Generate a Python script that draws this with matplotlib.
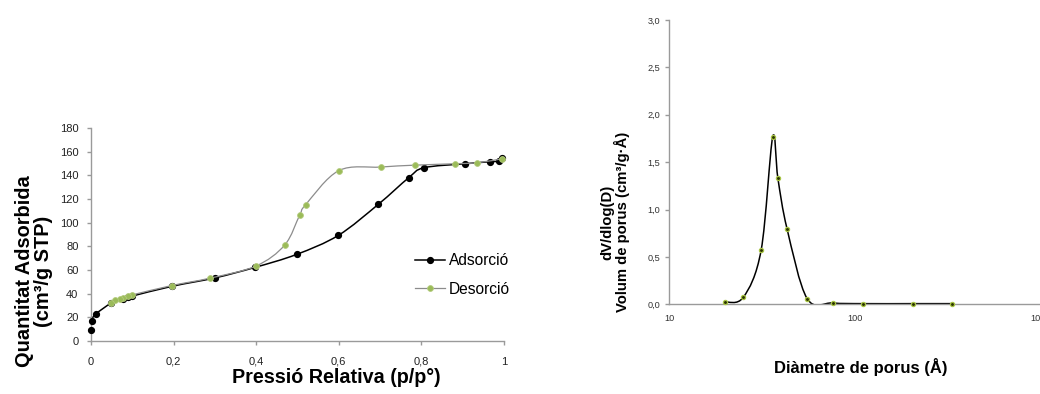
import numpy as np
import matplotlib
matplotlib.use("Agg")
import matplotlib.pyplot as plt
from matplotlib.path import Path
from matplotlib.patches import PathPatch
from matplotlib.lines import Line2D
from matplotlib.ticker import FixedLocator, FixedFormatter

plt.rcParams['font.family'] = ['Liberation Sans', 'DejaVu Sans']

# N2 isotherm: adsorption branch
ads_p = [0.0, 0.002, 0.011, 0.049, 0.078, 0.090, 0.100, 0.197, 0.301, 0.397,
         0.498, 0.599, 0.696, 0.769, 0.806, 0.906, 0.967, 0.987, 0.995]
ads_q = [9.0, 17.2, 22.6, 32.0, 35.3, 37.0, 38.0, 46.3, 53.4, 62.2,
         73.2, 89.3, 115.6, 137.9, 146.4, 149.8, 151.5, 152.0, 154.3]

# N2 isotherm: desorption branch
des_p = [0.995, 0.935, 0.882, 0.784, 0.701, 0.600, 0.520, 0.505, 0.469, 0.399,
         0.288, 0.196, 0.100, 0.090, 0.078, 0.070, 0.059, 0.049]
des_q = [154.0, 150.6, 149.8, 148.6, 147.0, 144.0, 115.3, 106.2, 81.1, 63.3,
         53.1, 46.9, 39.0, 38.1, 36.7, 35.6, 34.5, 32.5]

# Pore size distribution (BJH)
pore_d = [19.9, 25.1, 31.3, 36.1, 38.5, 43.1, 55.3, 76.0, 110.4, 205.5, 331.0]
pore_v = [0.025, 0.074, 0.573, 1.765, 1.329, 0.798, 0.060, 0.014, 0.007, 0.007, 0.007]

iso_xticks = [0, 0.2, 0.4, 0.6, 0.8, 1.0]
iso_xlabels = ["0", "0,2", "0,4", "0,6", "0,8", "1"]
iso_yticks = [0, 20, 40, 60, 80, 100, 120, 140, 160, 180]
psd_xticks = [10, 100, 1000]
psd_xlabels = ["10", "100", "1000"]
psd_yticks = [0.0, 0.5, 1.0, 1.5, 2.0, 2.5, 3.0]
psd_ylabels = ["0,0", "0,5", "1,0", "1,5", "2,0", "2,5", "3,0"]


def smooth_path(x, y, logx=False):
    """Catmull-Rom style smoothed line through the points, as cubic Beziers."""
    xs = np.log10(np.asarray(x, float)) if logx else np.asarray(x, float)
    P = np.column_stack([xs, np.asarray(y, float)])
    ext = np.vstack([P[0], P, P[-1]])
    verts = [P[0]]
    codes = [Path.MOVETO]
    for i in range(len(P) - 1):
        p0, p1, p2, p3 = ext[i], ext[i + 1], ext[i + 2], ext[i + 3]
        verts += [p1 + (p2 - p0) / 6.0, p2 - (p3 - p1) / 6.0, p2]
        codes += [Path.CURVE4] * 3
    verts = np.array(verts)
    if logx:
        verts[:, 0] = 10 ** verts[:, 0]
    return Path(verts, codes)


W, H = 1040, 394
fig = plt.figure(figsize=(W / 100, H / 100), dpi=100)

axis_col = '#9a9a9a'
text_col = '#222222'
green = '#9bbb59'

# ---------------- Isotherm ----------------
ax1 = fig.add_axes([91 / W, 53 / H, 413 / W, 213 / H])
ax1.add_patch(PathPatch(smooth_path(ads_p, ads_q), fill=False,
                        edgecolor='black', lw=1.1, zorder=2))
ax1.plot(ads_p, ads_q, ls='none', marker='o', ms=4.2, mfc='black',
         mec='black', zorder=3, clip_on=False)
ax1.add_patch(PathPatch(smooth_path(des_p, des_q), fill=False,
                        edgecolor='#8c8c8c', lw=0.9, zorder=4))
ax1.plot(des_p, des_q, ls='none', marker='o', ms=4.2, mfc=green,
         mec='#b3cb7d', mew=0.6, zorder=5, clip_on=False)

ax1.set_xlim(0, 1)
ax1.set_ylim(0, 180)
ax1.xaxis.set_major_locator(FixedLocator(iso_xticks))
ax1.xaxis.set_major_formatter(FixedFormatter(iso_xlabels))
ax1.set_yticks(iso_yticks)
for s in ('top', 'right'):
    ax1.spines[s].set_visible(False)
for s in ('left', 'bottom'):
    ax1.spines[s].set_color(axis_col)
    ax1.spines[s].set_linewidth(1.0)
ax1.tick_params(axis='both', direction='out', length=3, width=1,
                color=axis_col, labelsize=8, labelcolor=text_col)
ax1.tick_params(axis='x', pad=8.5)
ax1.tick_params(axis='y', pad=6)

handles = [
    Line2D([], [], color='black', lw=1.1, marker='o', ms=4.2, mfc='black', mec='black'),
    Line2D([], [], color='#8c8c8c', lw=0.9, marker='o', ms=4.2, mfc=green, mec='#b3cb7d', mew=0.6),
]
ax1.legend(handles, ['Adsorció', 'Desorció'], loc='center left',
           bbox_to_anchor=(415 / W, (H - 275) / H), bbox_transform=fig.transFigure,
           frameon=False, fontsize=11.2, handlelength=1.9, handletextpad=0.3,
           labelspacing=0.85, borderpad=0, borderaxespad=0)

fig.text(34 / W, (H - 271) / H, 'Quantitat Adsorbida\n(cm³/g STP)', rotation=90,
         ha='center', va='center', multialignment='center', fontsize=14.4,
         fontweight='bold', linespacing=1.0, color='black')
fig.text(336 / W, (H - 377.5) / H, 'Pressió Relativa (p/p°)', ha='center', va='center',
         fontsize=14.2, fontweight='bold', color='black')

# ---------------- Pore size distribution ----------------
ax2 = fig.add_axes([669 / W, (H - 304.3) / H, 372 / W, 284.4 / H])
ax2.set_xscale('log')
ax2.add_patch(PathPatch(smooth_path(pore_d, pore_v, logx=True), fill=False,
                        edgecolor='black', lw=1.1, zorder=2))
ax2.plot(pore_d, pore_v, ls='none', marker='o', ms=3.0, mfc='#2b3300',
         mec='#a8c545', mew=0.9, zorder=3, clip_on=False)
ax2.set_xlim(10, 1000)
ax2.set_ylim(0, 3.0)
ax2.xaxis.set_major_locator(FixedLocator(psd_xticks))
ax2.xaxis.set_major_formatter(FixedFormatter(psd_xlabels))
ax2.xaxis.set_minor_locator(FixedLocator([]))
ax2.yaxis.set_major_locator(FixedLocator(psd_yticks))
ax2.yaxis.set_major_formatter(FixedFormatter(psd_ylabels))
for s in ('top', 'right'):
    ax2.spines[s].set_visible(False)
for s in ('left', 'bottom'):
    ax2.spines[s].set_color(axis_col)
    ax2.spines[s].set_linewidth(1.0)
ax2.tick_params(axis='both', direction='out', width=1, color=axis_col,
                labelsize=6.6, labelcolor='#333333')
ax2.tick_params(axis='y', length=3, pad=3.5)
ax2.tick_params(axis='x', length=0, pad=7)

fig.text(615.5 / W, (H - 222) / H, 'dV/dlog(D)\nVolum de porus (cm³/g·Å)', rotation=90,
         ha='center', va='center', multialignment='center', fontsize=10.7,
         fontweight='bold', linespacing=0.95, color='black')
fig.text(860.5 / W, (H - 367) / H, 'Diàmetre de porus (Å)', ha='center', va='center',
         fontsize=12, fontweight='bold', color='black')

fig.savefig('out.png', dpi=100)
